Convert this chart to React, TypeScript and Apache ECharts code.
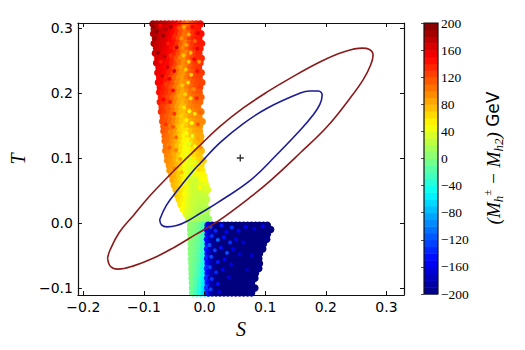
import React, { useEffect, useRef } from "react";
import * as echarts from "echarts";

const sTicks = [-0.2, -0.1, 0.0, 0.1, 0.2, 0.3];
const tTicks = [-0.1, 0.0, 0.1, 0.2, 0.3];
const barLevels = [-195,-185,-175,-165,-155,-145,-135,-125,-115,-105,-95,-85,-75,-65,-55,-45,-35,-25,-15,-5,5,15,25,35,45,55,65,75,85,95,105,115,125,135,145,155,165,175,185,195];
const jet = ["#00007f","#0000ff","#007fff","#00ffff","#7fff7f","#ffff00","#ff7f00","#ff0000","#7f0000"];

// upper plume: [T, first S, values at S spaced by sStep]
const sStep = 0.0065;
const upperRows: [number, number, number[]][] = [
[0.306,-0.085,[185,178,175,168,165,158,150,138,118,108,128,138,146]],
[0.2985,-0.083,[182,176,170,165,160,150,138,118,105,122,135,142]],
[0.291,-0.084,[180,178,170,165,158,152,138,120,106,112,130,140,144]],
[0.2835,-0.081,[178,172,166,160,152,140,122,104,110,128,136,142]],
[0.276,-0.083,[176,172,166,160,154,146,132,114,100,116,130,138,140]],
[0.2685,-0.079,[172,166,160,154,144,130,112,98,114,126,136,138]],
[0.261,-0.081,[170,168,160,154,148,138,122,104,98,118,128,136]],
[0.2535,-0.077,[165,160,154,146,134,118,100,96,112,124,132,134]],
[0.246,-0.079,[166,160,154,148,138,126,108,94,104,120,128,132]],
[0.2385,-0.075,[158,152,146,136,122,104,92,100,114,124,130]],
[0.231,-0.077,[158,154,148,138,126,110,96,92,108,118,126,128]],
[0.2235,-0.074,[150,146,138,126,112,96,90,102,114,122,126]],
[0.216,-0.076,[152,148,142,130,118,102,90,94,106,116,122,124]],
[0.2085,-0.073,[146,140,130,118,104,90,88,100,110,118,122]],
[0.201,-0.074,[146,140,132,122,108,94,84,92,104,112,118]],
[0.1935,-0.071,[138,132,122,110,96,82,86,98,106,112,114]],
[0.186,-0.073,[140,134,126,114,100,86,80,90,100,108,110]],
[0.1785,-0.070,[130,124,114,102,88,76,82,94,102,106]],
[0.171,-0.071,[132,126,116,106,92,78,76,86,96,102,104]],
[0.1635,-0.068,[122,116,108,94,80,70,78,88,94,98]],
[0.156,-0.069,[122,118,110,98,84,72,68,80,90,94,96]],
[0.1485,-0.067,[116,112,102,88,74,62,72,82,88,92]],
[0.141,-0.067,[116,112,102,90,76,62,60,74,84,88]],
[0.1335,-0.065,[110,106,96,82,68,54,64,76,82,84]],
[0.126,-0.065,[108,104,94,82,68,54,52,66,76,82]],
[0.1185,-0.063,[104,98,88,74,60,46,56,70,78]],
[0.111,-0.064,[104,100,90,78,62,48,46,60,72,76]],
[0.1035,-0.061,[98,94,84,70,54,42,50,62,72]],
[0.096,-0.061,[96,92,82,68,52,42,42,56,66,70]],
[0.0885,-0.058,[92,88,78,64,48,38,46,58,64]],
[0.081,-0.057,[90,84,74,60,46,38,38,50,58]],
[0.0735,-0.054,[86,80,70,56,42,36,42,50,52]],
[0.066,-0.052,[84,76,66,52,40,34,36,44,48]],
[0.0585,-0.050,[78,72,62,48,38,32,34,40,42]],
[0.051,-0.047,[76,68,56,44,34,30,30,34,36]],
[0.0435,-0.045,[70,62,50,40,32,28,28,30]],
[0.036,-0.042,[64,56,44,34,28,26,26,26]],
[0.0285,-0.039,[58,48,38,30,26,24,24]],
[0.021,-0.035,[50,40,32,26,22,20,20]],
[0.0135,-0.030,[40,32,26,22,18,16]],
[0.006,-0.026,[28,22,18,14,12,10]],
];

// lower green-cyan strip
const stripRows: [number, number, number[]][] = [
[-0.0035,-0.023,[8,4,-2,-12,-30]],
[-0.01,-0.023,[6,2,-4,-15,-35]],
[-0.0175,-0.0225,[5,1,-6,-18,-40]],
[-0.025,-0.0225,[4,0,-8,-22,-42]],
[-0.0325,-0.022,[3,-2,-10,-25,-45]],
[-0.04,-0.022,[2,-3,-12,-28,-50]],
[-0.0475,-0.0215,[2,-4,-14,-30,-52]],
[-0.055,-0.0215,[1,-6,-16,-35,-55]],
[-0.0625,-0.021,[0,-8,-18,-38,-58]],
[-0.07,-0.021,[0,-10,-20,-42,-62]],
[-0.0775,-0.0205,[-1,-12,-24,-46,-65]],
[-0.085,-0.0205,[-2,-14,-28,-50,-70]],
[-0.0925,-0.02,[-4,-16,-32,-54,-72]],
[-0.10,-0.02,[-6,-20,-36,-58,-76]],
[-0.1075,-0.0195,[-8,-24,-40,-64,-82]],
];

// lower dark-blue block
const blueRows: [number, number, number[]][] = [
[-0.0035,0.006,[-165,-185,-195,-195,-200,-200,-200,-200,-200,-200,-200,-200,-200,-200,-200,-200]],
[-0.01,0.005,[-150,-180,-195,-200,-200,-200,-200,-200,-200,-200,-200,-200,-200,-200,-200,-200,-200]],
[-0.0175,0.006,[-160,-185,-195,-200,-200,-200,-200,-200,-200,-200,-200,-200,-200,-200,-200,-200]],
[-0.025,0.005,[-145,-180,-195,-200,-200,-200,-200,-200,-200,-200,-200,-200,-200,-200,-200,-195]],
[-0.0325,0.006,[-155,-185,-195,-200,-200,-200,-200,-200,-200,-200,-200,-200,-200,-200,-200]],
[-0.04,0.005,[-140,-180,-195,-200,-200,-200,-200,-200,-200,-200,-200,-200,-200,-200,-200]],
[-0.0475,0.006,[-155,-185,-195,-200,-200,-200,-200,-200,-200,-200,-200,-200,-200,-200]],
[-0.055,0.005,[-140,-180,-195,-200,-200,-200,-200,-200,-200,-200,-200,-200,-200,-200]],
[-0.0625,0.006,[-150,-180,-195,-200,-200,-200,-200,-200,-200,-200,-200,-200,-200,-200]],
[-0.07,0.005,[-135,-180,-195,-200,-200,-200,-200,-200,-200,-200,-200,-200,-200,-195]],
[-0.0775,0.006,[-150,-180,-195,-200,-200,-200,-200,-200,-200,-200,-200,-200,-200]],
[-0.085,0.005,[-135,-180,-195,-200,-200,-200,-200,-200,-200,-200,-200,-200,-200]],
[-0.0925,0.006,[-145,-180,-195,-200,-200,-200,-200,-200,-200,-200,-200,-195]],
[-0.10,0.005,[-130,-180,-195,-200,-200,-200,-200,-200,-200,-200,-200,-200,-200]],
[-0.1075,0.006,[-140,-180,-195,-200,-200,-200,-200,-200,-200,-200,-200,-195]],
];

// fine speckles laid over the plume and block: [S, T, value]
const speckles: number[][] = [
[-0.084,0.302,195],[-0.079,0.295,198],[-0.082,0.284,192],[-0.073,0.304,150],[-0.068,0.288,188],[-0.064,0.298,176],[-0.06,0.276,140],[-0.056,0.302,186],[-0.05,0.288,134],[-0.046,0.27,170],
[-0.042,0.3,118],[-0.038,0.284,92],[-0.034,0.302,84],[-0.03,0.274,86],[-0.026,0.29,80],[-0.023,0.262,76],[-0.02,0.302,150],[-0.016,0.28,110],[-0.012,0.268,158],[-0.011,0.292,160],
[-0.077,0.262,190],[-0.072,0.248,140],[-0.066,0.256,178],[-0.061,0.24,168],[-0.056,0.258,130],[-0.05,0.234,160],[-0.045,0.25,112],[-0.04,0.24,88],[-0.035,0.258,74],[-0.031,0.236,72],
[-0.026,0.248,68],[-0.022,0.228,70],[-0.017,0.252,150],[-0.012,0.234,146],[-0.009,0.248,90],[-0.07,0.226,170],[-0.064,0.214,126],[-0.058,0.222,156],[-0.052,0.204,146],[-0.047,0.218,100],
[-0.042,0.196,82],[-0.037,0.212,72],[-0.032,0.198,66],[-0.027,0.216,62],[-0.023,0.192,62],[-0.018,0.206,96],[-0.013,0.192,136],[-0.008,0.21,128],[-0.068,0.19,150],[-0.062,0.176,116],
[-0.057,0.186,140],[-0.05,0.168,130],[-0.045,0.182,88],[-0.039,0.164,68],[-0.034,0.178,60],[-0.03,0.158,54],[-0.025,0.172,50],[-0.021,0.154,50],[-0.016,0.168,60],[-0.011,0.152,118],
[-0.007,0.17,112],[-0.064,0.152,130],[-0.058,0.14,96],[-0.052,0.148,118],[-0.047,0.132,110],[-0.041,0.144,68],[-0.036,0.126,54],[-0.03,0.138,46],[-0.025,0.122,38],[-0.02,0.134,36],
[-0.016,0.118,44],[-0.011,0.13,88],[-0.006,0.116,90],[-0.058,0.116,112],[-0.052,0.106,84],[-0.047,0.112,100],[-0.04,0.098,90],[-0.035,0.108,54],[-0.03,0.09,44],[-0.025,0.1,34],
[-0.02,0.086,32],[-0.015,0.094,34],[-0.01,0.082,66],[-0.005,0.096,72],[-0.05,0.084,98],[-0.044,0.072,70],[-0.038,0.078,78],[-0.032,0.062,46],[-0.026,0.07,30],[-0.02,0.058,28],
[-0.014,0.066,28],[-0.008,0.054,50],
[0.01,-0.006,-120],[0.018,-0.012,-135],[0.028,-0.004,-140],[0.036,-0.014,-150],[0.045,-0.007,-130],[0.056,-0.012,-155],[0.068,-0.006,-150],[0.082,-0.009,-165],[0.096,-0.005,-150],
[0.012,-0.02,-130],[0.022,-0.026,-110],[0.032,-0.022,-145],[0.042,-0.03,-130],[0.052,-0.025,-160],[0.064,-0.03,-165],[0.008,-0.034,-115],[0.017,-0.042,-125],[0.027,-0.038,-145],[0.037,-0.046,-120],
[0.047,-0.04,-155],[0.058,-0.048,-165],[0.011,-0.052,-120],[0.022,-0.06,-140],[0.033,-0.056,-150],[0.044,-0.064,-160],[0.009,-0.068,-125],[0.019,-0.076,-135],[0.03,-0.072,-155],[0.04,-0.084,-165],
[0.012,-0.086,-130],[0.022,-0.094,-145],[0.01,-0.102,-125],[0.024,-0.106,-160],[0.078,-0.05,-170],[0.07,-0.072,-175],
];

const outerEllipse = [[-0.160,-0.054],[-0.156,-0.042],[-0.141,-0.015],[-0.117,0.012],[-0.089,0.043],[-0.053,0.078],[-0.007,0.120],[0.026,0.149],[0.064,0.177],[0.104,0.202],[0.138,0.221],[0.191,0.248],[0.229,0.263],[0.260,0.269],[0.272,0.267],[0.278,0.258],[0.274,0.243],[0.262,0.221],[0.240,0.192],[0.202,0.148],[0.158,0.108],[0.112,0.068],[0.076,0.040],[0.021,0.002],[-0.015,-0.018],[-0.051,-0.038],[-0.084,-0.054],[-0.117,-0.066],[-0.143,-0.071],[-0.155,-0.067],[-0.160,-0.054]];
const innerEllipse = [[-0.074,0.005],[-0.071,-0.003],[-0.062,-0.006],[-0.046,-0.004],[-0.028,0.003],[-0.007,0.015],[0.021,0.031],[0.076,0.066],[0.117,0.103],[0.158,0.143],[0.178,0.165],[0.190,0.182],[0.194,0.197],[0.188,0.203],[0.174,0.203],[0.158,0.200],[0.104,0.177],[0.064,0.153],[0.026,0.124],[-0.007,0.092],[-0.018,0.081],[-0.044,0.051],[-0.063,0.027],[-0.074,0.005]];
const centerPoint = [[0.059, 0.1]];

const expand = (rows: [number, number, number[]][]) =>
  rows.flatMap(([t, s0, vals]) => vals.map((v, i) => [s0 + i * sStep, t, v]));

const minus = (s: string) => s.replace("-", "\u2212");
const sansTick = { fontFamily: "DejaVu Sans", fontSize: 14, color: "#000" };
const mathName = { fontFamily: "Liberation Serif", fontStyle: "italic", fontSize: 20, color: "#000" };

export default function App() {
  const ref = useRef<HTMLDivElement>(null);
  useEffect(() => {
    document.body.style.margin = "0";
    const chart = echarts.init(ref.current!, undefined, { renderer: "svg" });
    const frame = { show: true, onZero: false, lineStyle: { color: "#111", width: 1.2 } };
    const xBase = { type: "value", gridIndex: 0, min: -0.2089, max: 0.329, splitLine: { show: false }, axisLine: frame, z: 5 };
    const yBase = { type: "value", gridIndex: 0, min: -0.1108, max: 0.3077, splitLine: { show: false }, axisLine: frame, z: 5 };
    const tick = (vals: number[]) => ({ show: true, inside: true, length: 4, customValues: vals, lineStyle: { color: "#111", width: 1 } });
    chart.setOption({
      animation: false,
      backgroundColor: "#fff",
      grid: [
        { left: 77, top: 23, width: 327, height: 272 },
        { left: 424, top: 23, width: 14, height: 271 },
      ],
      xAxis: [
        { ...xBase, position: "bottom", axisTick: tick(sTicks),
          axisLabel: { ...sansTick, margin: 5, customValues: sTicks, formatter: (v: number) => minus(v.toFixed(1)) },
          name: "S", nameLocation: "middle", nameGap: 20, nameTextStyle: mathName },
        { ...xBase, position: "top", axisTick: tick(sTicks), axisLabel: { show: false } },
        { type: "value", gridIndex: 1, min: 0, max: 1, show: false },
      ],
      yAxis: [
        { ...yBase, position: "left", axisTick: tick(tTicks),
          axisLabel: { ...sansTick, margin: 5, customValues: tTicks, formatter: (v: number) => minus(v.toFixed(1)) },
          name: "T", nameLocation: "middle", nameGap: 41, nameRotate: 90, nameTextStyle: mathName },
        { ...yBase, position: "right", axisTick: tick(tTicks), axisLabel: { show: false } },
        { type: "value", gridIndex: 1, position: "right", min: -200, max: 200, interval: 40, z: 5,
          splitLine: { show: false },
          axisLine: { show: false },
          axisTick: { show: true, inside: true, length: 3, lineStyle: { color: "#222", width: 0.8 } },
          axisLabel: { margin: 3, fontFamily: "Liberation Serif", fontSize: 13.5, color: "#000", formatter: (v: number) => minus(String(v)) } },
      ],
      visualMap: {
        show: false, type: "continuous", min: -200, max: 200, dimension: 2,
        seriesIndex: [0, 1, 2, 3, 7], inRange: { color: jet },
      },
      series: [
        { type: "scatter", xAxisIndex: 0, yAxisIndex: 0, symbol: "circle", symbolSize: 7.5, data: expand(upperRows), itemStyle: { opacity: 1 }, z: 2 },
        { type: "scatter", xAxisIndex: 0, yAxisIndex: 0, symbol: "circle", symbolSize: 7.5, data: expand(stripRows), itemStyle: { opacity: 1 }, z: 2 },
        { type: "scatter", xAxisIndex: 0, yAxisIndex: 0, symbol: "circle", symbolSize: 7.5, data: expand(blueRows), itemStyle: { opacity: 1 }, z: 2 },
        { type: "scatter", xAxisIndex: 0, yAxisIndex: 0, symbol: "circle", symbolSize: 4, data: speckles, itemStyle: { opacity: 1 }, z: 2 },
        { type: "line", xAxisIndex: 0, yAxisIndex: 0, data: outerEllipse, smooth: 0.4, showSymbol: false, symbol: "none", lineStyle: { color: "#8b1a1a", width: 1.6 }, z: 3 },
        { type: "line", xAxisIndex: 0, yAxisIndex: 0, data: innerEllipse, smooth: 0.4, showSymbol: false, symbol: "none", lineStyle: { color: "#1c1c96", width: 1.6 }, z: 3 },
        { type: "scatter", xAxisIndex: 0, yAxisIndex: 0, symbol: "path://M4 0H6V4H10V6H6V10H4V6H0V4H4Z", symbolSize: 7, data: centerPoint, itemStyle: { color: "#000" }, z: 4 },
        { type: "custom", xAxisIndex: 2, yAxisIndex: 2, z: 2,
          data: barLevels.map((l) => [0, l, l]),
          encode: { x: 0, y: 1 },
          renderItem: (_p: any, api: any) => {
            const lv = api.value(1);
            const a = api.coord([0, lv - 5]);
            const b = api.coord([1, lv + 5]);
            return { type: "rect", shape: { x: a[0], y: b[1], width: b[0] - a[0], height: a[1] - b[1] + 0.5 }, style: { fill: api.visual("color") } };
          } },
      ],
      graphic: [
        { type: "rect", shape: { x: 424, y: 23, width: 14, height: 271 }, style: { fill: "none", stroke: "#111", lineWidth: 1.2 }, z: 10 },
        { type: "text", x: 493, y: 158, rotation: Math.PI / 2, z: 10,
          style: {
            text: "{m|(M}{sb|h}{sp|\u00b1}{m| \u2212 M}{sb|h2}{m|)}{g| GeV}",
            align: "center", verticalAlign: "middle",
            rich: {
              m: { fontFamily: "Liberation Serif", fontStyle: "italic", fontSize: 19, lineHeight: 24, fill: "#000" },
              sb: { fontFamily: "Liberation Serif", fontStyle: "italic", fontSize: 13, lineHeight: 24, verticalAlign: "bottom", fill: "#000" },
              sp: { fontFamily: "Liberation Serif", fontSize: 11, lineHeight: 24, verticalAlign: "top", fill: "#000" },
              g: { fontFamily: "DejaVu Sans", fontSize: 17, lineHeight: 24, fill: "#000" },
            },
          } },
      ],
    });
    return () => chart.dispose();
  }, []);
  return <div ref={ref} style={{ width: 525, height: 350 }} />;
}
